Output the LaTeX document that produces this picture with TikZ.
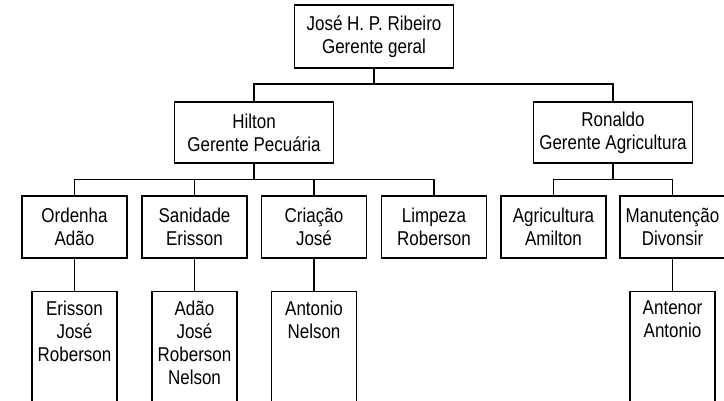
\documentclass[tikz,border=0pt]{standalone}
\usepackage{fontspec}
\setmainfont{Liberation Sans}[FakeStretch=0.85]
\begin{document}
\begin{tikzpicture}[x=1pt,y=-1pt,
  every node/.style={font=\fontsize{20}{23}\selectfont},
  box/.style={draw, line width=1.3pt, align=center, inner sep=0pt},
  mgr/.style={box, minimum width=159pt, minimum height=61pt},
  dept/.style={box, minimum width=105pt, minimum height=62pt},
  leafbox/.style={draw, line width=1.3pt, inner sep=0pt, minimum width=85pt, minimum height=130pt, anchor=north},
  leaftext/.style={align=center, anchor=north, inner sep=0pt, yshift=-10pt},
  link/.style={line width=1.3pt}
]
\useasboundingbox (0,0) rectangle (724,401);
\clip (0,0) rectangle (724,401);

\node[mgr, minimum height=63pt] (top) at (374,36.5) {José H. P. Ribeiro\\Gerente geral};
\node[mgr] (hilton) at (254,132.5) {Hilton\\Gerente Pecuária};
\node[mgr] (ronaldo) at (613,132.5) {Ronaldo\\Gerente Agricultura};

\node[dept] (ordenha) at (74.5,227) {Ordenha\\Adão};
\node[dept] (sanidade) at (194.5,227) {Sanidade\\Erisson};
\node[dept] (criacao) at (314,227) {Criação\\José};
\node[dept] (limpeza) at (434,227) {Limpeza\\Roberson};
\node[dept] (agricultura) at (553.5,227) {Agricultura\\Amilton};
\node[dept] (manutencao) at (672.5,227) {Manutenção\\Divonsir};

\node[leafbox] (l1) at (74.5,291) {};
\node[leafbox] (l2) at (194.5,291) {};
\node[leafbox] (l3) at (314,291) {};
\node[leafbox] (l4) at (672.5,291) {};
\node[leaftext] (t1) at (l1.north) {Erisson\\José\\Roberson};
\node[leaftext] (t2) at (l2.north) {Adão\\José\\Roberson\\Nelson};
\node[leaftext] (t3) at (l3.north) {Antonio\\Nelson};
\node[leaftext] (t4) at (l4.north) {Antenor\\Antonio};

\draw[link] (top.south) -- ++(0,15.5) -| (hilton.north);
\draw[link] (top.south) -- ++(0,15.5) -| (ronaldo.north);

\foreach \c in {ordenha,sanidade,criacao,limpeza}
  \draw[link] (hilton.south) -- ++(0,16) -| (\c.north);
\foreach \c in {agricultura,manutencao}
  \draw[link] (ronaldo.south) -- ++(0,16) -| (\c.north);

\draw[link] (ordenha.south) -- (l1.north);
\draw[link] (sanidade.south) -- (l2.north);
\draw[link] (criacao.south) -- (l3.north);
\draw[link] (manutencao.south) -- (l4.north);
\end{tikzpicture}
\end{document}
